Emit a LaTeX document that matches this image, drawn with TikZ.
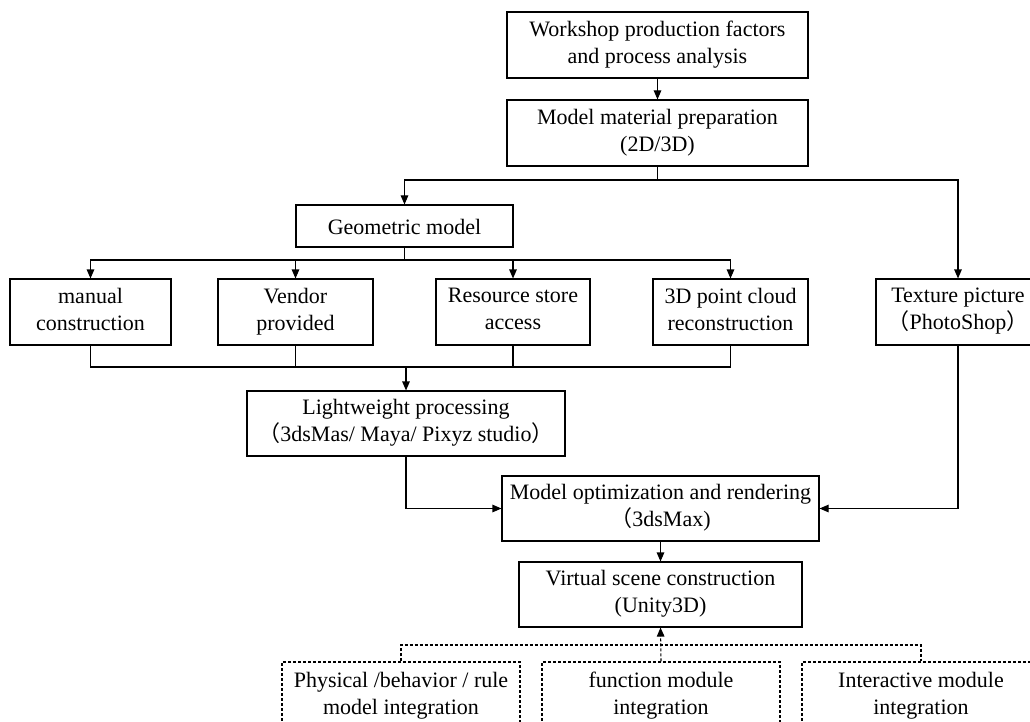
\documentclass[tikz,border=0pt]{standalone}
\usepackage{fontspec}
\setmainfont{Liberation Serif}
\newfontfamily\cjk{Noto Sans CJK SC}
\usetikzlibrary{arrows.meta}
\newcommand{\flp}{{\cjk （}}
\newcommand{\frp}{{\cjk ）}}

\begin{document}
\begin{tikzpicture}[x=1pt,y=-1pt,
    box/.style={draw, line width=1.1pt, align=center, inner sep=0pt,
      execute at begin node={\rule{0pt}{22pt}},
      execute at end node={\rule[-6pt]{0pt}{6pt}},
      font=\fontsize{22}{27}\selectfont},
    dbox/.style={box, dash pattern=on 3pt off 2pt},
    lin/.style={line width=1.1pt},
    dlin/.style={lin, dash pattern=on 3pt off 2pt},
    arr/.style={lin, -{Triangle[length=9pt,width=7.5pt]}},
    darr/.style={dlin, -{Triangle[length=9pt,width=7.5pt]}}]
    % Page frame
    \useasboundingbox (0,0) rectangle (1030,722);
    \clip (0,0) rectangle (1030,722);

    % Preparation stage
    \node[box, minimum width=301pt, minimum height=66pt] (work) at (657.5,45) {Workshop production factors\\and process analysis};
    \node[box, minimum width=301pt, minimum height=66pt] (prep) at (657.5,133) {Model material preparation\\(2D/3D)};
    \node[box, minimum width=217pt, minimum height=42pt] (geo) at (404.5,226) {Geometric model};
    \node[box, minimum width=164pt, minimum height=66pt] (tex) at (958,312) {Texture picture\\\flp PhotoShop\frp};

    % Geometric model sources
    \node[box, minimum width=161pt, minimum height=66pt] (man) at (90.5,312) {manual\\construction};
    \node[box, minimum width=155pt, minimum height=66pt] (ven) at (295.5,312) {Vendor\\provided};
    \node[box, minimum width=154pt, minimum height=66pt] (res) at (513,312) {Resource store\\access};
    \node[box, minimum width=155pt, minimum height=66pt] (pcl) at (730.5,312) {3D point cloud\\reconstruction};

    % Processing and scene
    \node[box, minimum width=318pt, minimum height=65pt] (light) at (406,423.5) {Lightweight processing\\\flp 3dsMas/ Maya/ Pixyz studio\frp};
    \node[box, minimum width=317pt, minimum height=65pt] (opt) at (660.5,508.5) {Model optimization and rendering\\\flp 3dsMax)};
    \node[box, minimum width=283pt, minimum height=65pt] (virt) at (660.5,594.5) {Virtual scene construction\\(Unity3D)};

    % Integration modules
    \node[dbox, minimum width=238pt, minimum height=68pt] (phys) at (401,696) {Physical /behavior / rule\\model integration};
    \node[dbox, minimum width=238pt, minimum height=68pt] (func) at (661,696) {function module\\integration};
    \node[dbox, minimum width=238pt, minimum height=68pt] (inter) at (921,696) {Interactive module\\integration};

    % Connectors
    \coordinate (split1) at (657.5,180);
    \coordinate (split2) at (404.5,260);
    \coordinate (join1) at (406,367);
    \coordinate (join2) at (661,645);

    \draw[arr] (work) -- (prep);
    \draw[lin] (prep.south) -- (split1);
    \draw[arr] (split1) -| (geo.north);
    \draw[arr] (split1) -| (tex.north);
    \draw[lin] (geo.south) -- (split2);
    \foreach \n in {man,ven,res,pcl}
        \draw[arr] (split2) -| (\n.north);
    \foreach \n in {man,ven,res,pcl}
        \draw[lin] (\n.south) |- (join1);
    \draw[arr] (join1) -- (light.north);
    \draw[arr] (light.south) |- (opt.west);
    \draw[arr] (tex.south) |- (opt.east);
    \draw[arr] (opt) -- (virt);
    \draw[dlin] (phys.north) |- (join2) -| (inter.north);
    \draw[darr] (func.north) -- (virt.south);

\end{tikzpicture}
\end{document}
